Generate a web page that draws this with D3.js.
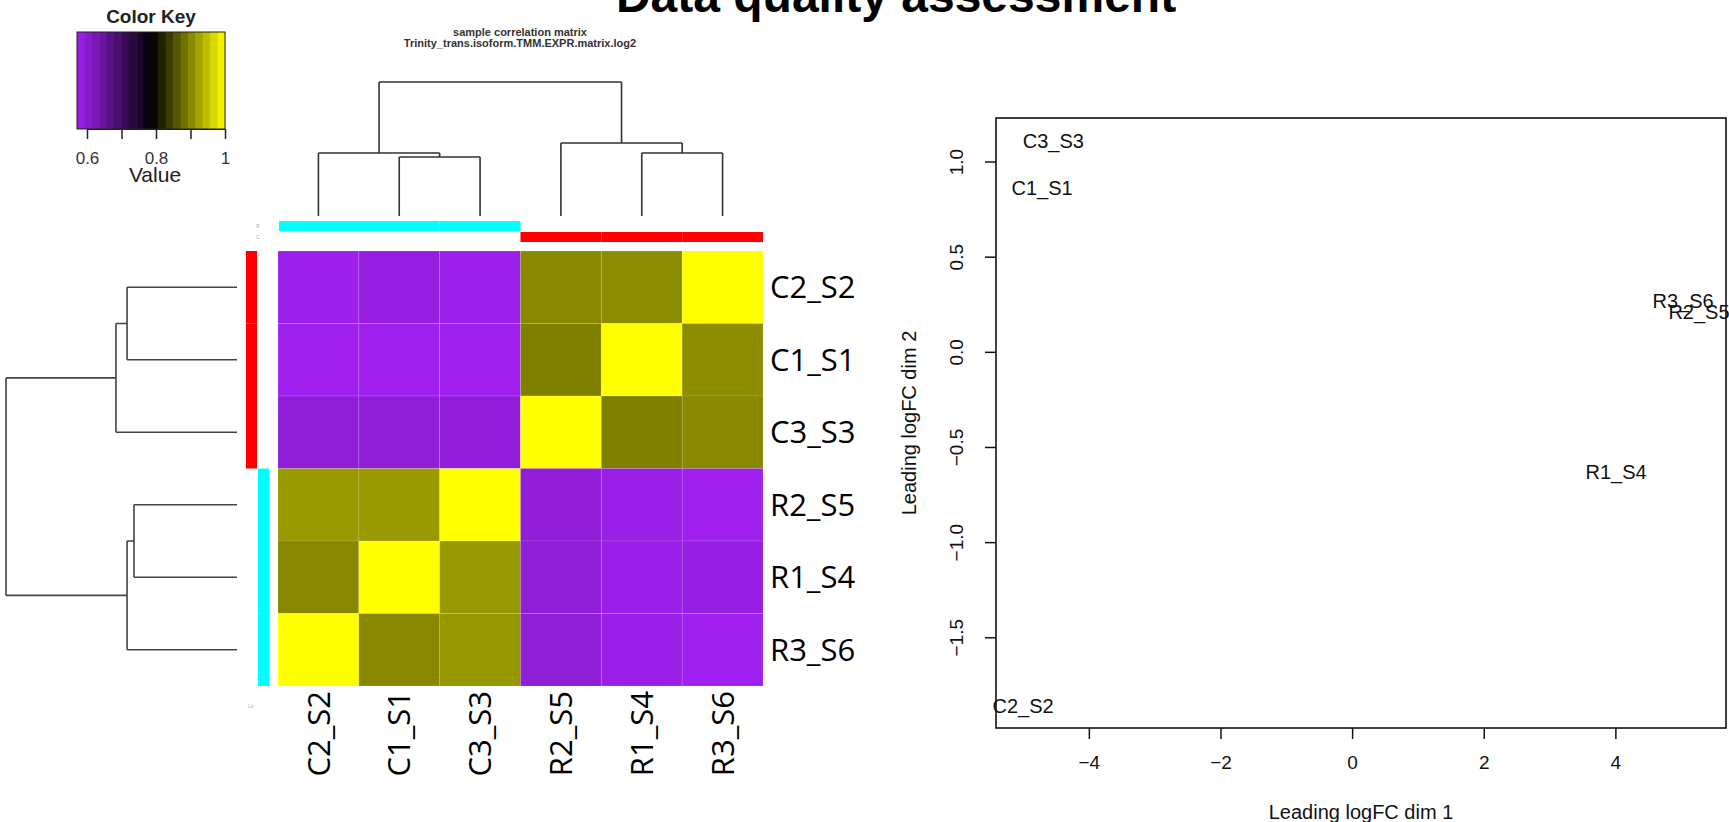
<!DOCTYPE html>
<html>
<head>
<meta charset="utf-8">
<script src="https://cdn.jsdelivr.net/npm/d3@7"></script>
<style>
  body { margin: 0; background: #fff; }
  svg { display: block; font-family: "Liberation Sans", Arial, sans-serif; }
</style>
</head>
<body>
<div id="chart"></div>
<script>
// samples in dendrogram order (rows and columns use the same order)
const samples = ["C2_S2", "C1_S1", "C3_S3", "R2_S5", "R1_S4", "R3_S6"]
const rowGroups = ["C", "C", "C", "R", "R", "R"]
const colGroups = ["C", "C", "C", "R", "R", "R"]

// correlation values, rows top to bottom
const corr = [
  [0.575, 0.585, 0.576, 0.903, 0.905, 1.0],
  [0.571, 0.571, 0.572, 0.895, 1.0, 0.906],
  [0.593, 0.593, 0.591, 1.0, 0.895, 0.903],
  [0.916, 0.916, 1.0, 0.592, 0.579, 0.571],
  [0.902, 1.0, 0.915, 0.593, 0.579, 0.583],
  [1.0, 0.902, 0.914, 0.593, 0.580, 0.571]
]

// dendrogram merges [left, right, height]; numbers are leaves, "nK" is merge K
const colMerges = [[1, 2, 0.44], [0, "n0", 0.47], [4, 5, 0.47], [3, "n2", 0.545], ["n1", "n3", 1]]
const rowMerges = [[0, 1, 0.476], ["n0", 2, 0.524], [3, 4, 0.446], ["n2", 5, 0.476], ["n1", "n3", 1]]

// colour key
const keyRange = [0.571, 1]
const keyTicks = [0.6, 0.7, 0.8, 0.9, 1]
const keyLabels = ["0.6", "", "0.8", "", "1"]

// MDS plot
const mdsLabels = ["C2_S2", "C1_S1", "C3_S3", "R2_S5", "R1_S4", "R3_S6"]
const mdsDim1 = [-5.0, -4.71, -4.54, 5.27, 4.01, 5.03]
const mdsDim2 = [-1.858, 0.863, 1.11, 0.21, -0.632, 0.268]
const dim1Ticks = [-4, -2, 0, 2, 4]
const dim2Ticks = [-1.5, -1, -0.5, 0, 0.5, 1]

const width = 1729
const height = 822
const FONT = "Liberation Sans, Arial, sans-serif"

const svg = d3.select("#chart")
  .append("svg")
  .attr("width", width)
  .attr("height", height)

const color = d3.scaleLinear()
  .domain([0.571, 0.79, 1])
  .range(["#a020f0", "#000000", "#ffff00"])

const groupColor = {C: "#00ffff", R: "#ff0000"}
const rowGroupColor = {C: "#ff0000", R: "#00ffff"}

// title
svg.append("text")
  .attr("x", 896).attr("y", 12)
  .attr("text-anchor", "middle")
  .attr("font-size", 48).attr("font-weight", "bold")
  .text("Data quality assessment")

// heatmap subtitle
svg.append("text")
  .attr("x", 520).attr("y", 36)
  .attr("text-anchor", "middle")
  .attr("font-size", 11).attr("font-weight", "bold").attr("fill", "#333")
  .text("sample correlation matrix")
svg.append("text")
  .attr("x", 520).attr("y", 47)
  .attr("text-anchor", "middle")
  .attr("font-size", 11).attr("font-weight", "bold").attr("fill", "#333")
  .text("Trinity_trans.isoform.TMM.EXPR.matrix.log2")

// ---- colour key
const keyX = d3.scaleLinear().domain([0.6, 1]).range([87, 225])
const nBands = 20
const bands = d3.range(nBands).map(i => keyRange[0] + i * (keyRange[1] - keyRange[0]) / nBands)
const bandW = (keyRange[1] - keyRange[0]) / nBands

svg.append("g").selectAll("rect")
  .data(bands)
  .join("rect")
  .attr("x", d => keyX(d))
  .attr("y", 32)
  .attr("width", d => keyX(d + bandW) - keyX(d) + 0.5)
  .attr("height", 97)
  .attr("fill", d => color(d + bandW / 2))

svg.append("rect")
  .attr("x", keyX(keyRange[0])).attr("y", 32)
  .attr("width", keyX(keyRange[1]) - keyX(keyRange[0])).attr("height", 97)
  .attr("fill", "none").attr("stroke", "#222").attr("stroke-width", 1)

const keyAxis = svg.append("g")
  .attr("transform", "translate(0,129)")
  .call(d3.axisBottom(keyX).tickValues(keyTicks).tickSize(10).tickPadding(13)
    .tickFormat((d, i) => keyLabels[i]))
keyAxis.attr("font-size", 17).attr("font-family", FONT)
keyAxis.select(".domain").attr("stroke", "#222")
keyAxis.selectAll("line").attr("stroke", "#222").attr("stroke-width", 1.5)
keyAxis.selectAll("text").attr("fill", "#333")

svg.append("text")
  .attr("x", 151).attr("y", 23)
  .attr("text-anchor", "middle")
  .attr("font-size", 19).attr("font-weight", "bold").attr("fill", "#222")
  .text("Color Key")
svg.append("text")
  .attr("x", 155).attr("y", 182)
  .attr("text-anchor", "middle")
  .attr("font-size", 21).attr("fill", "#222")
  .text("Value")

// ---- heatmap
const x = d3.scaleBand().domain(samples).range([278, 763])
const y = d3.scaleBand().domain(samples).range([251, 686])

const cells = corr.flatMap((row, i) => row.map((v, j) => ({r: samples[i], c: samples[j], v})))
svg.append("g").selectAll("rect")
  .data(cells)
  .join("rect")
  .attr("x", d => x(d.c))
  .attr("y", d => y(d.r))
  .attr("width", x.bandwidth())
  .attr("height", y.bandwidth())
  .attr("fill", d => color(d.v))
  .attr("stroke", "rgba(255,255,255,0.12)")
  .attr("stroke-width", 1)

// side colour bars
svg.append("g").selectAll("rect")
  .data(colGroups)
  .join("rect")
  .attr("x", (d, i) => x(samples[i]) + (i === 0 ? 1 : 0))
  .attr("y", d => d === "C" ? 221 : 232)
  .attr("width", x.bandwidth())
  .attr("height", 10)
  .attr("fill", d => groupColor[d])

svg.append("g").selectAll("rect")
  .data(rowGroups)
  .join("rect")
  .attr("x", d => d === "C" ? 246 : 258)
  .attr("y", (d, i) => y(samples[i]))
  .attr("width", 11)
  .attr("height", y.bandwidth())
  .attr("fill", d => rowGroupColor[d])

// tiny side-bar labels
svg.append("text").attr("x", 258).attr("y", 228).attr("text-anchor", "middle")
  .attr("font-size", 5).attr("fill", "#aaa").text("R")
svg.append("text").attr("x", 258).attr("y", 239).attr("text-anchor", "middle")
  .attr("font-size", 5).attr("fill", "#aaa").text("C")
svg.append("text").attr("x", 251).attr("y", 708).attr("text-anchor", "middle")
  .attr("font-size", 5).attr("fill", "#aaa").text("Lit")

// row labels
svg.append("g").selectAll("text")
  .data(samples)
  .join("text")
  .attr("x", 770)
  .attr("y", d => y(d) + y.bandwidth() / 2)
  .attr("dy", "0.36em")
  .attr("font-family", "Open Sans, Noto Sans, sans-serif")
  .attr("font-size", 31)
  .text(d => d)

// column labels
svg.append("g").selectAll("text")
  .data(samples)
  .join("text")
  .attr("transform", d => `translate(${x(d) + x.bandwidth() / 2},691) rotate(-90)`)
  .attr("dy", "0.36em")
  .attr("text-anchor", "end")
  .attr("font-family", "Open Sans, Noto Sans, sans-serif")
  .attr("font-size", 31)
  .text(d => d)

// ---- dendrograms
const dendroSegs = (merges, leafPos) => {
  const nodes = []
  const get = k => typeof k === "number" ? {p: leafPos(k), h: 0} : nodes[+k.slice(1)]
  const segs = []
  merges.forEach(([a, b, h]) => {
    const A = get(a), B = get(b)
    segs.push([A.p, A.h, A.p, h], [B.p, B.h, B.p, h], [A.p, h, B.p, h])
    nodes.push({p: (A.p + B.p) / 2, h})
  })
  return segs
}

const topH = d3.scaleLinear().domain([0, 1]).range([216, 82])
const colSegs = dendroSegs(colMerges, i => x(samples[i]) + x.bandwidth() / 2)
svg.append("path")
  .attr("d", colSegs.map(s => `M${s[0]},${topH(s[1])}L${s[2]},${topH(s[3])}`).join(""))
  .attr("fill", "none").attr("stroke", "#333").attr("stroke-width", 1.6)

const leftH = d3.scaleLinear().domain([0, 1]).range([237, 6])
const rowSegs = dendroSegs(rowMerges, i => y(samples[i]) + y.bandwidth() / 2)
svg.append("path")
  .attr("d", rowSegs.map(s => `M${leftH(s[1])},${s[0]}L${leftH(s[3])},${s[2]}`).join(""))
  .attr("fill", "none").attr("stroke", "#444").attr("stroke-width", 1.6)

// ---- MDS plot
const pad = ([a, b]) => [a - 0.04 * (b - a), b + 0.04 * (b - a)]
const mx = d3.scaleLinear().domain(pad(d3.extent(mdsDim1))).range([996, 1726])
const my = d3.scaleLinear().domain(pad(d3.extent(mdsDim2))).range([728, 118])

svg.append("rect")
  .attr("x", 996).attr("y", 118)
  .attr("width", 730).attr("height", 610)
  .attr("fill", "none").attr("stroke", "#111").attr("stroke-width", 1.6)

const xAxis = svg.append("g")
  .attr("transform", "translate(0,728)")
  .call(d3.axisBottom(mx).tickValues(dim1Ticks).tickSize(11).tickPadding(17)
    .tickFormat(d3.format("d")))
xAxis.attr("font-size", 19).attr("font-family", FONT)
xAxis.select(".domain").remove()
xAxis.selectAll("line").attr("stroke", "#111").attr("stroke-width", 1.5)
xAxis.selectAll("text").attr("fill", "#111")

const yAxis = svg.append("g")
  .attr("transform", "translate(996,0)")
  .call(d3.axisLeft(my).tickValues(dim2Ticks).tickSize(11)
    .tickFormat(d3.format(".1f")))
yAxis.attr("font-size", 19).attr("font-family", FONT)
yAxis.select(".domain").remove()
yAxis.selectAll("line").attr("stroke", "#111").attr("stroke-width", 1.5)
yAxis.selectAll("text")
  .attr("x", null).attr("dy", null)
  .attr("text-anchor", "middle")
  .attr("transform", "translate(-33,0) rotate(-90)")
  .attr("fill", "#111")

svg.append("text")
  .attr("x", 1361).attr("y", 819)
  .attr("text-anchor", "middle")
  .attr("font-size", 20).attr("fill", "#111")
  .text("Leading logFC dim 1")
svg.append("text")
  .attr("transform", "translate(916,423) rotate(-90)")
  .attr("text-anchor", "middle")
  .attr("font-size", 20).attr("fill", "#111")
  .text("Leading logFC dim 2")

svg.append("g").selectAll("text")
  .data(mdsLabels)
  .join("text")
  .attr("x", (d, i) => mx(mdsDim1[i]))
  .attr("y", (d, i) => my(mdsDim2[i]))
  .attr("dy", "0.36em")
  .attr("text-anchor", "middle")
  .attr("font-size", 20).attr("fill", "#111")
  .text(d => d)
</script>
</body>
</html>
